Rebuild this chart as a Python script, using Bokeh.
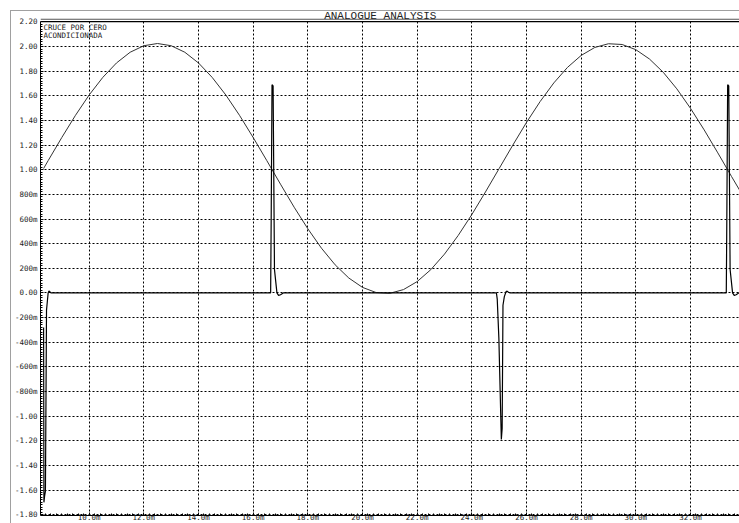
import numpy as np
from bokeh.plotting import figure
from bokeh.models import FixedTicker, Label, BoxAnnotation, Range1d
from bokeh.embed import file_html
from bokeh.resources import INLINE

# ---- data (time in ms, voltage in V) ----
sine_t = [8.333, 8.5, 9.0, 9.5, 10.0, 10.5, 11.0, 11.5, 12.0, 12.5, 13.0, 13.5,
          14.0, 14.5, 15.0, 15.5, 16.0, 16.5, 17.0, 17.5, 18.0, 18.5, 19.0, 19.5,
          20.0, 20.5, 21.0, 21.5, 22.0, 22.5, 23.0, 23.5, 24.0, 24.5, 25.0, 25.5,
          26.0, 26.5, 27.0, 27.5, 28.0, 28.5, 29.0, 29.5, 30.0, 30.5, 31.0, 31.5,
          32.0, 32.5, 33.0, 33.5, 34.0]
sine_v = [1.01, 1.074, 1.262, 1.442, 1.607, 1.750, 1.867, 1.954, 2.007, 2.025, 2.007, 1.954,
          1.867, 1.750, 1.607, 1.442, 1.262, 1.074, 0.883, 0.696, 0.521, 0.363, 0.228, 0.121,
          0.045, 0.003, -0.003, 0.027, 0.092, 0.189, 0.315, 0.466, 0.636, 0.820, 1.010, 1.200,
          1.384, 1.554, 1.705, 1.831, 1.928, 1.993, 2.023, 2.017, 1.975, 1.899, 1.792, 1.657,
          1.499, 1.324, 1.137, 0.946, 0.758]

pulse_t = [8.333, 8.345, 8.37, 8.40, 8.44, 8.47, 8.50, 8.53, 8.56, 8.60,
           16.64, 16.66, 16.69, 16.73, 16.78, 16.87, 16.93, 17.00, 17.10,
           24.90, 24.93, 24.99, 25.08, 25.11, 25.14, 25.19, 25.25, 25.29, 25.34, 25.40,
           33.31, 33.33, 33.36, 33.40, 33.45, 33.54, 33.60, 33.67, 33.77, 33.90]
pulse_v = [-0.28, -1.70, -1.65, -1.61, -0.14, -0.07, 0.0, 0.015, 0.01, 0.0,
           0.0, 0.6, 1.69, 1.68, 0.19, 0.0, -0.02, -0.015, 0.0,
           0.0, -0.05, -0.37, -1.19, -1.10, -0.10, -0.03, 0.01, 0.015, 0.005, 0.0,
           0.0, 0.6, 1.69, 1.68, 0.19, 0.0, -0.02, -0.015, 0.0, 0.0]

x_ticks = [10.0, 12.0, 14.0, 16.0, 18.0, 20.0, 22.0, 24.0, 26.0, 28.0, 30.0, 32.0, 34.0]
x_tick_labels = ["10.0m", "12.0m", "14.0m", "16.0m", "18.0m", "20.0m", "22.0m",
                 "24.0m", "26.0m", "28.0m", "30.0m", "32.0m", "34.0m"]
y_ticks = [-1.8, -1.6, -1.4, -1.2, -1.0, -0.8, -0.6, -0.4, -0.2, 0.0,
           0.2, 0.4, 0.6, 0.8, 1.0, 1.2, 1.4, 1.6, 1.8, 2.0, 2.2]
y_tick_labels = ["-1.80", "-1.60", "-1.40", "-1.20", "-1.00", "-800m", "-600m", "-400m",
                 "-200m", "0.00", "200m", "400m", "600m", "800m", "1.00", "1.20", "1.40",
                 "1.60", "1.80", "2.00", "2.20"]
title_text = "ANALOGUE ANALYSIS"
legend_lines = ["CRUCE POR CERO", "ACONDICIONADA"]

X0, X1 = 8.22, 33.83
Y0, YTOP = -1.807, 2.2
PX_PER_V = 123.8
Y1 = YTOP + 10.5 / PX_PER_V   # frame extends up over the title bar

p = figure(width=729, height=513, margin=(10, 0, 0, 10),
           x_range=Range1d(X0, X1), y_range=Range1d(Y0, Y1),
           output_backend="svg", toolbar_location=None,
           min_border_left=28, min_border_top=0, min_border_right=0, min_border_bottom=0)
p.styles = {"border-left": "1px solid #a0a0a0", "border-top": "1px solid #a0a0a0"}
p.outline_line_color = None
p.background_fill_color = "white"
p.border_fill_color = "white"

font = "DejaVu Sans Mono"
x_minor = list(np.round(np.arange(8.2, 34.01, 0.2), 3))
y_minor = list(np.round(np.arange(-1.8, 2.201, 0.02), 3))

p.xaxis.ticker = FixedTicker(ticks=x_ticks, minor_ticks=x_minor)
p.xaxis.major_label_overrides = {t: l for t, l in zip(x_ticks, x_tick_labels)}
p.yaxis.ticker = FixedTicker(ticks=y_ticks, minor_ticks=y_minor)
p.yaxis.major_label_overrides = {t: l for t, l in zip(y_ticks, y_tick_labels)}
p.yaxis.bounds = (Y0, YTOP)

for ax in (p.xaxis, p.yaxis):
    ax.axis_line_color = "black"
    ax.axis_line_width = 1
    ax.major_tick_line_color = "black"
    ax.minor_tick_line_color = "black"
    ax.major_tick_out = 0
    ax.minor_tick_out = 0
    ax.major_tick_in = 3
    ax.minor_tick_in = 2
    ax.major_label_text_font = font
    ax.major_label_text_font_size = "7.5px"
    ax.major_label_text_color = "#222222"
p.yaxis.major_label_standoff = 3
p.xaxis.major_label_standoff = -3

p.xgrid.ticker = FixedTicker(ticks=x_ticks)
p.ygrid.ticker = FixedTicker(ticks=y_ticks)
for g in (p.xgrid, p.ygrid):
    g.grid_line_color = "black"
    g.grid_line_dash = "2 2"
    g.grid_line_width = 1

p.line(sine_t, sine_v, line_color="#333333", line_width=1)
p.line(pulse_t, pulse_v, line_color="black", line_width=1.2)

# title bar: blank strip over the frame top, then its double bottom rule
p.add_layout(BoxAnnotation(bottom=YTOP, fill_color="white", fill_alpha=1.0, line_color=None))
p.add_layout(BoxAnnotation(bottom=YTOP - 0.3 / PX_PER_V, top=YTOP + 0.9 / PX_PER_V,
                           fill_color="black", fill_alpha=1.0, line_color=None))
p.add_layout(BoxAnnotation(bottom=YTOP + 2.3 / PX_PER_V, top=YTOP + 3.2 / PX_PER_V,
                           fill_color="#555555", fill_alpha=1.0, line_color=None))

p.add_layout(Label(x=20.65, y=YTOP + 6.2 / PX_PER_V, text=title_text,
                   text_align="center", text_baseline="middle",
                   text_font="Liberation Mono", text_font_size="11px", text_color="#222222"))
for i, line in enumerate(legend_lines):
    p.add_layout(Label(x=8.33, y=YTOP - (1.2 + 8.0 * i) / PX_PER_V, text=line,
                       text_align="left", text_baseline="top",
                       text_font=font, text_font_size="7.5px", text_color="#222222"))

open("out.html", "w").write(file_html(p, INLINE))
